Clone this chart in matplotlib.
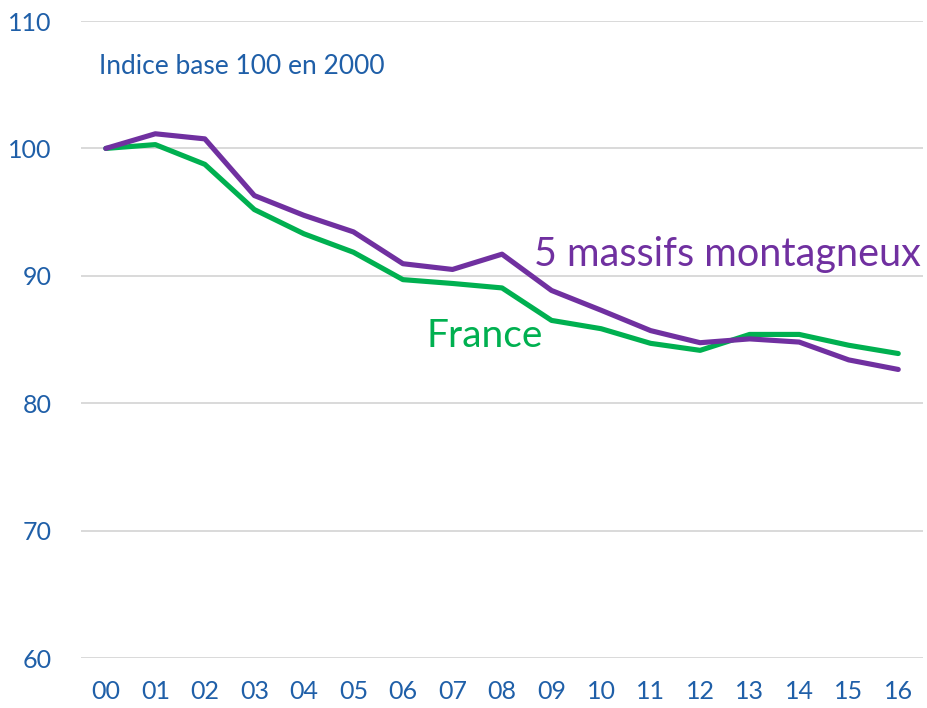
import numpy as np
import matplotlib.pyplot as plt

plt.rcParams['font.family'] = ['Lato', 'DejaVu Sans']

annees = ['00', '01', '02', '03', '04', '05', '06', '07', '08',
          '09', '10', '11', '12', '13', '14', '15', '16']
massifs = [100, 101.15, 100.75, 96.3, 94.75, 93.45, 90.95, 90.5, 91.7,
           88.85, 87.3, 85.7, 84.75, 85.05, 84.8, 83.4, 82.65]
france = [100, 100.3, 98.75, 95.2, 93.3, 91.85, 89.7, 89.4, 89.05,
          86.5, 85.85, 84.7, 84.15, 85.4, 85.4, 84.55, 83.9]

bleu = '#1F5FA8'
violet = '#7030A0'
vert = '#00B050'

fig = plt.figure(figsize=(9.27, 7.08), dpi=100)
ax = fig.add_axes([0.0874, 0.0706, 0.9083, 0.8997])

x = np.arange(len(annees))
ax.plot(x, france, color=vert, lw=3.7, solid_capstyle='round', solid_joinstyle='round', zorder=3)
ax.plot(x, massifs, color=violet, lw=3.7, solid_capstyle='round', solid_joinstyle='round', zorder=4)

ax.set_xlim(-0.5, 16.5)
ax.set_ylim(60, 110)
ax.set_yticks([60, 70, 80, 90, 100, 110])
ax.set_xticks(x)
ax.set_xticklabels(annees)
ax.yaxis.grid(True, color='#D9D9D9', lw=1.4)
ax.set_axisbelow(True)
for s in ax.spines.values():
    s.set_visible(False)
ax.tick_params(length=0, labelsize=18, colors=bleu)
ax.tick_params(axis='y', pad=21)
ax.tick_params(axis='x', pad=16)

ax.text(-0.13, 106.4, 'Indice base 100 en 2000', color=bleu, fontsize=19, va='center', ha='left')
ax.text(16.46, 90.75, '5 massifs montagneux', color=violet, fontsize=28.5, ha='right', va='baseline')
ax.text(6.48, 84.45, 'France', color=vert, fontsize=28, ha='left', va='baseline')

fig.savefig('out.png', dpi=100)
